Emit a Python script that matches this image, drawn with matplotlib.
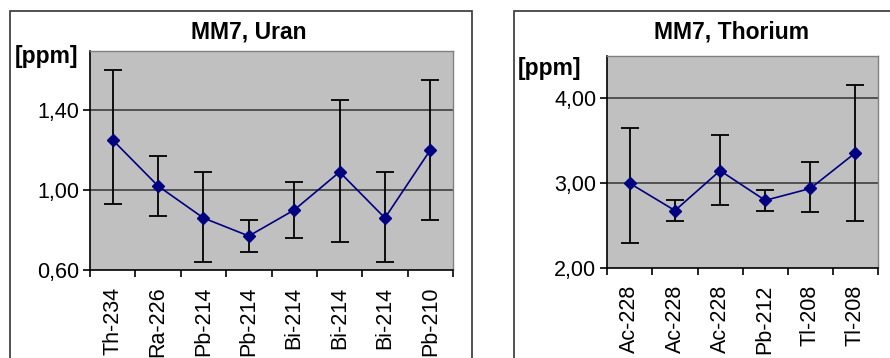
import matplotlib
matplotlib.use("Agg")
import matplotlib.pyplot as plt
from matplotlib.patches import Rectangle
import numpy as np

plt.rcParams['font.family'] = ['Liberation Sans', 'DejaVu Sans']

# ---- data ----
u_labels = ["Th-234", "Ra-226", "Pb-214", "Pb-214", "Bi-214", "Bi-214", "Bi-214", "Pb-210"]
u_values = [1.25, 1.02, 0.86, 0.77, 0.90, 1.09, 0.86, 1.20]
u_upper = [1.60, 1.17, 1.09, 0.85, 1.04, 1.45, 1.09, 1.55]
u_lower = [0.93, 0.87, 0.64, 0.69, 0.76, 0.74, 0.64, 0.85]
u_yticks = [0.60, 1.00, 1.40]

t_labels = ["Ac-228", "Ac-228", "Ac-228", "Pb-212", "Tl-208", "Tl-208"]
t_values = [3.00, 2.68, 3.15, 2.80, 2.94, 3.36]
t_upper = [3.65, 2.80, 3.57, 2.92, 3.25, 4.16]
t_lower = [2.30, 2.56, 2.75, 2.68, 2.66, 2.56]
t_yticks = [2.00, 3.00, 4.00]

W, H = 890, 358
fig = plt.figure(figsize=(W / 100, H / 100), dpi=100)

# chart frames
for x0, x1 in [(10, 472), (514, 900)]:
    fig.patches.append(Rectangle((x0 / W, -0.1), (x1 - x0) / W, 1 - 11 / H + 0.1,
                                 transform=fig.transFigure, fill=False,
                                 edgecolor='#333333', linewidth=1.2, zorder=0))


def panel(rect, labels, vals, up, lo, yticks, ylim, title, title_xy, ppm_xy):
    ax = fig.add_axes(rect)
    ax.set_facecolor('#C0C0C0')
    n = len(labels)
    x = np.arange(n)
    vals = np.array(vals)
    yerr = np.array([vals - np.array(lo), np.array(up) - vals])
    ax.errorbar(x, vals, yerr=yerr, fmt='none', ecolor='black',
                elinewidth=1.3, capsize=6.5, capthick=1.3, zorder=3)
    ax.plot(x, vals, color='#000080', linewidth=1.2, marker='D',
            markersize=6.3, markerfacecolor='#000080', markeredgecolor='#000080', zorder=4)
    ax.set_xlim(-0.5, n - 0.5)
    ax.set_ylim(*ylim)
    ax.set_yticks(yticks)
    ax.set_yticklabels([f"{v:.2f}".replace('.', ',') for v in yticks], fontsize=15.5)
    ax.set_xticks(np.arange(n + 1) - 0.5)
    ax.set_xticklabels([])
    ax.set_xticks(x, minor=True)
    ax.set_xticklabels(labels, minor=True, rotation=90, fontsize=15.5, va='top')
    ax.tick_params(axis='x', which='minor', length=0, pad=12)
    ax.tick_params(axis='x', which='major', length=5, width=1.2, direction='out')
    ax.tick_params(axis='y', length=5, width=1.2, direction='out', pad=3)
    for v in yticks[1:]:
        ax.axhline(v, color='#333333', linewidth=1.1, zorder=1)
    ax.spines['left'].set_color('black')
    ax.spines['bottom'].set_color('black')
    ax.spines['left'].set_linewidth(1.2)
    ax.spines['bottom'].set_linewidth(1.2)
    for s in ['top', 'right']:
        ax.spines[s].set_color('#808080')
        ax.spines[s].set_linewidth(1.0)
    fig.text(title_xy[0] / W, 1 - title_xy[1] / H, title, ha='center', va='center',
             fontsize=16.5, fontweight='bold')
    fig.text(ppm_xy[0] / W, 1 - ppm_xy[1] / H, "[ppm]", ha='left', va='center',
             fontsize=16.5, fontweight='bold')
    return ax


panel([90 / W, 1 - 270 / H, (453 - 90) / W, (270 - 51) / H],
      u_labels, u_values, u_upper, u_lower, u_yticks, (0.60, 1.695),
      "MM7, Uran", (249, 32), (15, 57))
panel([607.3 / W, 1 - 268.3 / H, (878 - 607.3) / W, (268.3 - 56) / H],
      t_labels, t_values, t_upper, t_lower, t_yticks, (2.00, 4.50),
      "MM7, Thorium", (732, 32), (518, 68))

fig.savefig("out.png", dpi=100)
